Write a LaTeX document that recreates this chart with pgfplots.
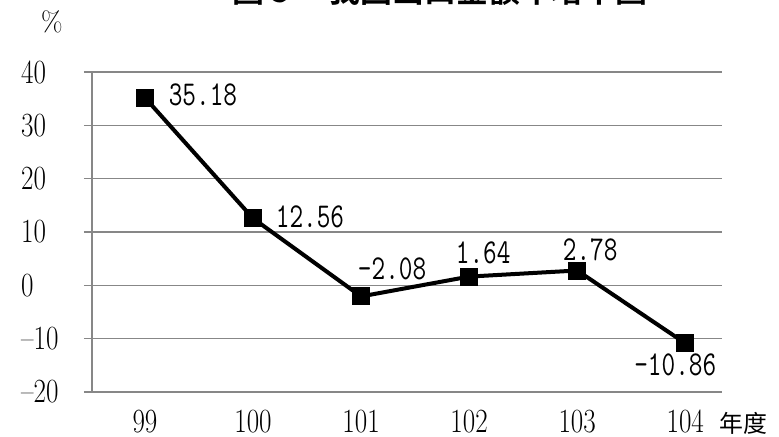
\documentclass[border=0pt]{standalone}
\usepackage{pgfplots}
\pgfplotsset{compat=1.18}
\usepackage{graphicx}
\usepackage{fontspec}
\newfontfamily\cjk{Noto Sans CJK TC}
\newfontfamily\cjkb{Noto Sans CJK TC Bold}
\definecolor{gridgray}{HTML}{878787}
\newcommand\sx[1]{\scalebox{0.8}[1]{#1}}
\begin{document}
\begin{tikzpicture}
\begin{axis}[
  at={(0,0)}, anchor=south west,
  scale only axis,
  width=630bp, height=320bp,
  xmin=98.51, xmax=104.34,
  ymin=-20, ymax=40,
  ytick={-20,-10,0,10,20,30,40},
  yticklabels={\sx{–20},\sx{–10},\sx{0},\sx{10},\sx{20},\sx{30},\sx{40}},
  xtick={99,100,101,102,103,104},
  xticklabels={\sx{99},\sx{100},\sx{101},\sx{102},\sx{103},\sx{104}},
  axis x line=bottom, axis y line=left,
  axis line style={gridgray, line width=1.4bp, -},
  x axis line style={-}, y axis line style={-},
  ymajorgrids, grid style={gridgray, line width=1.4bp},
  ytick style={gridgray, line width=1.4bp},
  major tick length=8bp,
  tick align=outside,
  xtick style={draw=none},
  tick label style={font=\fontsize{34}{40}\selectfont, inner sep=0pt},
  xticklabel style={anchor=north, yshift=-10bp},
  yticklabel style={anchor=west, xshift=-63bp},
  clip=false,
]
\addplot[black, line width=4bp, mark=square*, mark size=7bp, mark options={solid}]
  coordinates {(99,35.18) (100,12.56) (101,-2.08) (102,1.64) (103,2.78) (104,-10.86)};
\addplot[draw=none, mark=none, nodes near coords={\scalebox{0.76}[1]{\pgfplotspointmeta}},
  point meta=explicit symbolic,
  visualization depends on={\thisrow{dx}\as\dx},
  visualization depends on={\thisrow{dy}\as\dy},
  every node near coord/.append style={anchor=center, inner sep=0pt, xshift=\dx bp, yshift=\dy bp, font=\ttfamily\fontsize{35}{40}\selectfont, black}]
  table[x=x, y=y, meta=lab]{
x y lab dx dy
99 35.18 35.18 58 3
100 12.56 12.56 57 2
101 -2.08 –2.08 31 28
102 1.64 1.64 14 24
103 2.78 2.78 13 21
104 -10.86 –10.86 -10 -22
};
\end{axis}
\node[font=\fontsize{28}{32}\selectfont] at (-40bp,370bp) {\%};
\node[font=\cjk\fontsize{24}{28}\selectfont] at (651bp,-31bp) {年度};
\node[font=\cjkb\fontsize{32}{36}\selectfont, anchor=base, inner sep=0pt] at (348bp,389bp) {圖 5\hspace{1.2em}我國出口金額年增率圖};
\pgfresetboundingbox
\useasboundingbox (-92bp,-45bp) rectangle (687bp,392bp);
\end{tikzpicture}
\end{document}
